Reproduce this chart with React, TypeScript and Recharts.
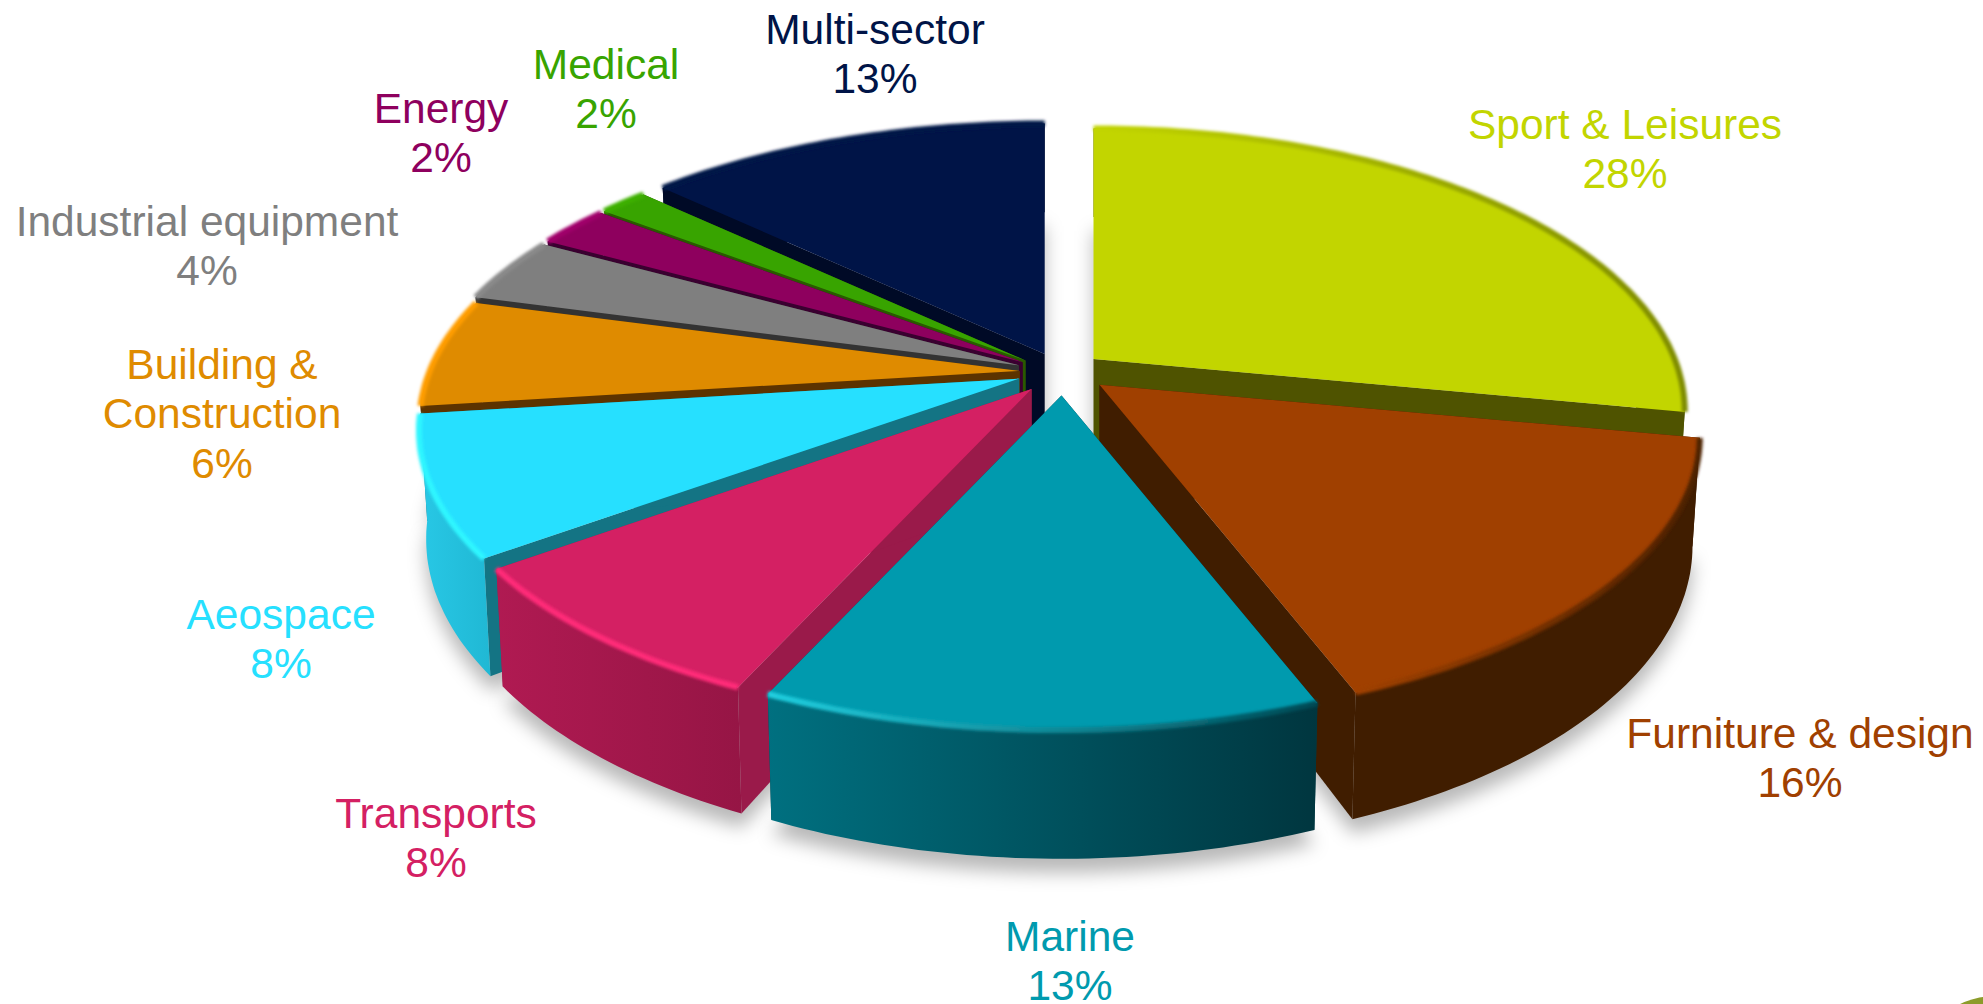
import { PieChart, Pie } from "recharts";

const names = ["Sport & Leisures", "Furniture & design", "Marine", "Transports", "Aeospace", "Building & Construction", "Industrial equipment", "Energy", "Medical", "Multi-sector"];
// slice sizes as measured on the picture, printed labels are the rounded ones
const shares = [28, 16.15, 12.65, 8.2, 8, 6.2, 3.8, 2.4, 1.6, 13];
const percentLabels = ["28%", "16%", "13%", "8%", "8%", "6%", "4%", "2%", "2%", "13%"];
const rows = names.map((name, i) => ({ name, value: shares[i] }));

// colours per slice
const topColors = ["#c2d500", "#a04000", "#009aae", "#d42063", "#26e0ff", "#df8b00", "#7f7f7f", "#8e005e", "#38a400", "#001447"];
const cutColors = ["#4f5300", "#401d00", "#003c46", "#9a1a4a", "#147484", "#5c3300", "#333333", "#3a0030", "#2a5a00", "#000a26"];
const wallFrom = ["#4f5300", "#401d00", "#007080", "#b01a52", "#28c8e6", "#5c3300", "#333333", "#3a0030", "#2a5a00", "#000a26"];
const wallTo = ["#4f5300", "#401d00", "#00363f", "#961545", "#20b8d4", "#5c3300", "#333333", "#3a0030", "#2a5a00", "#000a26"];
const rimFrom = ["#c2d500", "#a04000", "#20cfe0", "#ff2a78", "#2ef6ff", "#ff9d00", "#8a8a8a", "#a0006a", "#3db000", "#001447"];
const rimTo = ["#7f8c00", "#4c2000", "#004a55", "#ff2a78", "#2ef6ff", "#ff9d00", "#8a8a8a", "#a0006a", "#3db000", "#001447"];

// how far each slice is pulled out, as a share of the radius, plus small screen nudges
const explode = [0.09, 0.095, 0.085, 0.07, 0.065, 0.06, 0.066, 0.066, 0.066, 0.04];
const nudgeX = [-2, 1, 8, 3, 0, 0, 0, 0, 0, -1];
const nudgeY = [2.5, -4, 0, 2, 0, 0, 0, 0, 0, -8];
const spreadX = [0.985, 1, 1, 1, 1, 1, 1, 1, 1, 1];

// back to front
const paintOrder = [9, 0, 8, 7, 6, 5, 1, 4, 3, 2];

// label anchors: centre x and first baseline
const labelX = [1625, 1800, 1070, 436, 281, 222, 207, 441, 606, 875];
const labelY = [139, 748, 951, 828, 629, 379, 236, 123, 79, 44];
const labelLines = [["Sport & Leisures"], ["Furniture & design"], ["Marine"], ["Transports"], ["Aeospace"], ["Building &", "Construction"], ["Industrial equipment"], ["Energy"], ["Medical"], ["Multi-sector"]];

const RADIUS = 590;
const TILT = 273 / 590;
const DEPTH = 105 / 590;
const PERSP = 0.184;

function proj(x: number, y: number, r: number, level = 0) {
  const w = 1 - PERSP * y;
  return {
    x: ((x * r) / w) * (1 - 0.012 * level),
    y: (y * r * TILT) / w + (level * r * DEPTH) / w,
  };
}

function sliceGeometry(p: any, i: number) {
  const r = p.outerRadius;
  const a0 = 90 - p.startAngle;
  const a1 = 90 - p.endAngle;
  const mid = ((a0 + a1) / 2) * (Math.PI / 180);
  const off = proj(explode[i] * Math.sin(mid), -explode[i] * Math.cos(mid), r);
  const ax = p.cx + off.x + nudgeX[i];
  const ay = p.cy + off.y + nudgeY[i];
  const at = (deg: number, level: number) => {
    const t = deg * (Math.PI / 180);
    const q = proj(Math.sin(t), -Math.cos(t), r, level);
    return [ax + q.x * spreadX[i], ay + q.y];
  };
  const arc = (level: number) => {
    const pts: number[][] = [];
    const steps = Math.max(2, Math.ceil(a1 - a0));
    for (let s = 0; s <= steps; s++) pts.push(at(a0 + ((a1 - a0) * s) / steps, level));
    return pts;
  };
  const apex = [ax, ay];
  const apexLow = [ax, ay + r * DEPTH];
  return { a0, a1, apex, apexLow, at, arc };
}

const toPath = (pts: number[][], close = true) =>
  pts.map((q, k) => `${k ? "L" : "M"}${q[0].toFixed(1)} ${q[1].toFixed(1)}`).join(" ") + (close ? " Z" : "");

function SliceShadow(p: any) {
  const i = names.indexOf(p.name);
  const g = sliceGeometry(p, i);
  const low = g.arc(1).map((q) => [q[0], q[1] + 14]);
  return <path d={toPath([[g.apexLow[0], g.apexLow[1] + 14], ...low])} fill="#000" fillOpacity={0.28} filter="url(#floorBlur)" />;
}

function sliceShape(k: number) {
  return function Slice(p: any) {
    const i = names.indexOf(p.name);
    if (i !== k) return <g />;
    const g = sliceGeometry(p, i);
    const top = g.arc(0);
    const low = g.arc(1);
    const face = (deg: number) => toPath([g.apex, g.at(deg, 0), g.at(deg, 1), g.apexLow]);
    return (
      <g>
        <defs>
          <linearGradient id={`wall${i}`} x1="0" y1="0" x2="1" y2="0">
            <stop offset="0%" stopColor={wallFrom[i]} />
            <stop offset="100%" stopColor={wallTo[i]} />
          </linearGradient>
          <linearGradient id={`rim${i}`} x1="0" y1="0" x2="1" y2="0">
            <stop offset="0%" stopColor={rimFrom[i]} />
            <stop offset="100%" stopColor={rimTo[i]} />
          </linearGradient>
        </defs>
        <path d={face(g.a0)} fill={cutColors[i]} />
        <path d={face(g.a1)} fill={cutColors[i]} />
        <path d={toPath([...top, ...low.slice().reverse()])} fill={`url(#wall${i})`} />
        <path d={toPath([g.apex, ...top])} fill={topColors[i]} />
        <path d={toPath(top, false)} fill="none" stroke={`url(#rim${i})`} strokeWidth={6} filter="url(#rimBlur)" />
      </g>
    );
  };
}

function sliceLabel(k: number) {
  return function SliceLabel(p: any) {
    const i = names.indexOf(p.name);
    if (i !== k) return <g />;
    const lines = [...labelLines[i], percentLabels[i]];
    return (
      <text x={labelX[i]} y={labelY[i]} textAnchor="middle" fontFamily="'Liberation Sans', Arial, sans-serif" fontSize={42.5} fill={topColors[i]}>
        {lines.map((t, n) => (
          <tspan key={n} x={labelX[i]} dy={n ? 49.3 : 0}>
            {t}
          </tspan>
        ))}
      </text>
    );
  };
}

export default function App() {
  const pieProps = {
    data: rows,
    dataKey: "value",
    nameKey: "name",
    cx: 1055,
    cy: 372,
    outerRadius: RADIUS,
    startAngle: 90,
    endAngle: -270,
    stroke: "none",
    isAnimationActive: false,
  };
  return (
    <div style={{ position: "absolute", left: 0, top: 0, width: 1983, height: 1004, overflow: "hidden", background: "#fff" }}>
      <PieChart width={1983} height={1004} margin={{ top: 0, right: 0, bottom: 0, left: 0 }}>
        <defs>
          <filter id="floorBlur" filterUnits="userSpaceOnUse" x="0" y="0" width="1983" height="1004">
            <feGaussianBlur stdDeviation="9" />
          </filter>
          <filter id="rimBlur" filterUnits="userSpaceOnUse" x="0" y="0" width="1983" height="1004">
            <feGaussianBlur stdDeviation="1.8" />
          </filter>
        </defs>
        <Pie {...pieProps} shape={SliceShadow} label={false} labelLine={false} />
        {paintOrder.map((k) => (
          <Pie key={k} {...pieProps} shape={sliceShape(k)} label={sliceLabel(k)} labelLine={false} />
        ))}
      </PieChart>
      <div style={{ position: "absolute", left: 1915, top: 996, width: 160, height: 160, borderRadius: "50%", background: "#8c9c2a" }} />
    </div>
  );
}
